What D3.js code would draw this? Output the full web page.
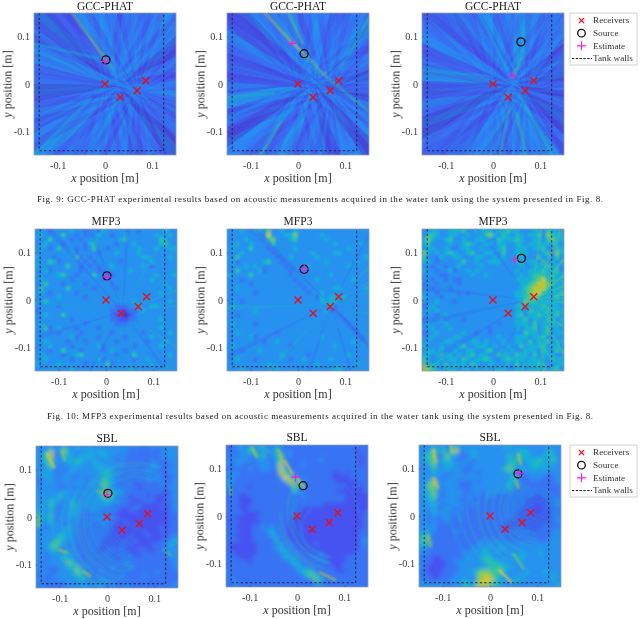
<!DOCTYPE html>
<html>
<head>
<meta charset="utf-8">
<script src="https://cdn.jsdelivr.net/npm/d3@7.9.0/dist/d3.min.js"></script>
<style>
  html, body { margin: 0; padding: 0; background: #fff; }
  svg { display: block; font-family: "Liberation Serif", serif; }
</style>
</head>
<body>
<svg id="chart" width="640" height="619"></svg>
<script>
// Values. Everything is in metres, map levels are 0..1.
const receiversX = [0, 0.032, 0.068, 0.086];
const receiversY = [0, -0.028, -0.014, 0.007];
const tickValues = [-0.1, 0, 0.1];
const legendLabels = ['Receivers', 'Source', 'Estimate', 'Tank walls'];
const wallsX = [-0.139, -0.139, 0.124, 0.124];
const wallsY = [0.15, -0.141, -0.141, 0.15];
const captions = [
  'Fig. 9: GCC-PHAT experimental results based on acoustic measurements acquired in the water tank using the system presented in Fig. 8.',
  'Fig. 10: MFP3 experimental results based on acoustic measurements acquired in the water tank using the system presented in Fig. 8.'
];

const titles = ['GCC-PHAT', 'MFP3', 'SBL'];
const sourcesX = [0.002, 0.013, 0.059, 0.002, 0.013, 0.06, 0.002, 0.013, 0.059];
const sourcesY = [0.051, 0.064, 0.089, 0.051, 0.065, 0.088, 0.05, 0.064, 0.089];
const estimatesX = [0, -0.013, 0.041, 0.002, 0.013, 0.046, 0, -0.003, 0.063];
const estimatesY = [0.048, 0.086, 0.017, 0.049, 0.066, 0.085, 0.047, 0.082, 0.09];

// GCC-PHAT: wide wedges (start angle, end angle, level) round a hub
const gccHub = [[0.03, -0.005], [0.035, 0.0], [0.04, 0.0]];
const gccWedges1 = [[-8,6,.2],[6,18,.12],[18,28,.17],[28,42,.07],[42,55,.2],[55,64,.26],[64,75,.15],[75,88,.22],[88,100,.14],[100,112,.24],[112,122,.28],[122,132,.12],[132,146,.07],[146,156,.2],[156,165,.3],[165,178,.18],[178,190,.06],[190,200,.2],[200,208,.12],[208,216,.24],[216,226,.3],[226,238,.13],[238,248,.2],[248,258,.27],[258,270,.15],[270,280,.23],[280,292,.1],[292,304,.2],[304,318,.06],[318,330,.18],[330,342,.11],[342,352,.23]];
const gccWedges2 = [[-8,4,.15],[4,14,.08],[14,30,.2],[30,42,.13],[42,52,.28],[52,66,.2],[66,78,.13],[78,92,.25],[92,104,.18],[104,118,.27],[118,132,.23],[132,148,.09],[148,160,.18],[160,172,.11],[172,186,.13],[186,196,.3],[196,206,.16],[206,216,.07],[216,230,.25],[230,242,.14],[242,254,.3],[254,264,.13],[264,276,.2],[276,290,.09],[290,304,.22],[304,316,.07],[316,330,.25],[330,342,.16],[342,352,.09]];
const gccWedges3 = [[-8,4,.13],[4,14,.06],[14,26,.18],[26,38,.09],[38,50,.23],[50,62,.15],[62,74,.27],[74,88,.3],[88,102,.18],[102,114,.27],[114,128,.2],[128,142,.11],[142,156,.22],[156,168,.15],[168,178,.3],[178,188,.09],[188,200,.15],[200,212,.06],[212,224,.2],[224,236,.11],[236,248,.23],[248,258,.3],[258,270,.16],[270,280,.27],[280,292,.23],[292,304,.3],[304,316,.13],[316,332,.06],[332,342,.16],[342,352,.07]];

// GCC-PHAT: fine fans from two receivers, one digit per 5 degrees, level = digit / 10
const gccFansA = [
  '213212321323212132312321213231212312132213231212321321231213212312132132',
  '321231213232123121323212312132123212313213212321312321231321232132123121',
  '231321212313212321323121323123213212132321231213231232121321232131231213'
];
const gccFansB = [
  '123212132123231212321323121232132123213121323212132312123213212321321232',
  '232131232123132123213212132312321213231213212321232131213232123132123213',
  '312123213213232121323213123212312132132312123231213213232123121232132312'
];

// streaks: x1, y1, x2, y2, level
const gccStreaks1 = [[-0.07,0.15,-0.03,0.095,.55],[-0.03,0.095,0.003,0.05,.6],[0.003,0.05,0.02,0.028,.5],[-0.15,0.085,-0.005,0.052,.36],[-0.15,-0.15,-0.03,-0.03,.36],[-0.035,-0.15,0.03,-0.03,.32],[0.15,-0.02,0.06,0,.28],[0.09,0.15,0.03,0.03,.26],[0.01,0.15,0.02,0.02,.28],[0.15,0.13,0.06,0.03,.3],[-0.01,0.02,0.09,-0.03,.3],[0.01,0.06,0.07,-0.04,.3],[-0.02,-0.02,0.05,0.03,.3],[0.06,-0.15,0.05,-0.03,.28],[-0.15,-0.09,-0.03,-0.03,.3]];
const gccStreaks2 = [[-0.07,0.15,-0.015,0.09,.62],[-0.015,0.09,0.013,0.064,.72],[0.013,0.064,0.06,0.015,.56],[0.06,0.015,0.15,-0.058,.46],[-0.02,0.15,0.01,0.085,.52],[0.09,0.03,0.15,0.14,.42],[-0.15,-0.028,-0.05,-0.02,.42],[-0.08,-0.15,-0.035,-0.08,.5],[-0.035,-0.08,-0.01,-0.04,.36],[0.03,0.05,0.045,0.02,.45],[-0.15,-0.07,-0.02,-0.02,.3],[0.01,0.02,0.09,-0.03,.28],[0.03,0.15,0.045,0.02,.28],[0.02,0.0,0.06,-0.15,.28],[0.15,0.1,0.05,0,.26]];
const gccStreaks3 = [[0.045,0.02,0.06,0.055,.5],[0.06,0.055,0.065,0.12,.4],[-0.03,0.15,0.03,0.03,.36],[0.055,-0.02,0.125,-0.15,.4],[0.05,-0.06,0.07,-0.15,.48],[0.015,-0.15,0.035,-0.05,.46],[-0.15,0.03,0,0.015,.36],[0.03,0.02,0.075,-0.03,.3],[0.02,-0.03,0.07,0.03,.3],[-0.05,-0.15,0.02,-0.03,.28],[0.15,0.14,0.07,0.03,.28],[-0.15,0.1,0,0.03,.26]];

// level maps, top row first, one digit per cell
const gccMap = ['222222','232332','232332','223322','222222','222222'];
const mfpMap1 = ['33323333433233243333333233333433','34333353323233433233433333343343','33353333232334333334533333335433','33433323333245333323334333334533','34323533323235332333333433343344','33333333423333233343333433333333','43332333352323333333333344333343','33354233333232333332333333433333','43333335332323233433333343233333','33423333332333223333343333333333','33333453323335332233333333343334','34333333233333323333333333433333','33533323333233333233333333333433','35333335333332333323333333333343','34323333323333333333333333334333','33333433333233333333333333333333','33533333333333333333334333333343','33333233333333333322233433443333','23333333333333333221122343333333','33433353333333333211012333333333','33333333233333333221122333334333','34333333333233333322233333333333','33523433323333233333333333334333','33333233332333333233333323333343','43333333423333233333233333433333','33433332333233333323333332333433','33343333233333423333332333334333','33323353332333323433233333333333','34333323345333333323335333333343','33433333233333423333332334333333','43333433333233335233333333433333','33333333433333333333343333333433'];
const mfpMap2 = ['33343344363343343333333333333333','33333333373334463333343333333333','33334333356333453333334333333333','33433433335333333333333343333343','34333533323333343333333333343333','33343333332333333334333344333333','33533333333233433333433333333334','34233333453323333333334333333433','33334343333332333343333333343333','33533334233333233333333333333333','43333533333333233333333433333333','33323333333333323333433333334333','33333233333333332333333333333333','33433333333333333233333344333334','33333323333333333323343333333333','33333333333333333333243444433333','33323333333333333333344443333333','34333333333333333333333423333333','33333343333333333333334223333333','33233333333333333333333332333333','33333333333333333333333333233333','34333323333333333333333333323333','33333333333333333333333333332333','33433333333233333333333333333233','33333423333333333333343333333323','33333333233433333333333333334333','34333333333333233333333343333333','33323334333333333333333333333333','33333333333343333323333333343333','33433323333333233433333433333333','33333333343333333333433333333433','33343333333433333333333344333333'];
const mfpMap3 = ['33443344453344443445443334435443','35543344334334564354344344536544','46433453343344433544454334435644','45333343345433443443344344444443','34433432344334333453344434453354','64343454334533443353344433345364','53324334433344334343344333534353','44323333353343344433344344353434','33233233433334333333334334445443','43323342334343333333343344454453','33332233333433433333334345554544','33233232233333333333344445674544','23323333233333333333334456776544','33233323333333333333334567775444','33323333232333333333344567754445','43332333333333333333344566544454','33343332333333333333334655444444','23433333333333333333345444454443','34343333333333333333344354445444','33323433333333333333345344544453','23334233323333333333344534435434','34333433333333333233344435344544','33433343333333323333343445345343','23343333343323323333333544345344','33433334433333333433344434453433','34333443333443433343344353445344','43334333453344434334335344453443','34434334334433453343433444354354','44345443434534433544354435344433','54344344354344543345444344433544','65443534443543344334353444543344','76543444344343434443344344443453'];
const sblMap1 = ['33343363343433333333323222323333','33473364333343443333322222222333','34572344334443343323222222223333','33563334454334333323222222322233','33463233343334433333222222332223','33342323433333444322222223322233','34433233323333345332222222232223','23342333233233354322222223332223','23333233333333465322221222223223','33333223233233363322222122222233','33333343333333356443222222222123','34333533332333465422212221211223','33354333433333345332221122211223','34353233533333333222212211112123','43343233433233322221122111111123','54352333432222222211111111111122','44352333332223322221111111111122','43343323322322232211211111111122','33233334322222222111112111112122','33333343322222222111111121112122','33333543322222221111121112111223','33335533322222211111212111112234','33356432322222211112121111222343','33345233322222112212111221122233','33233343332222222122221122222233','33233354322222222212222222222233','32333336532322222222322222222223','33222334463232222322232222222223','23322333464222322222222222232222','23223333345322232223222232222222','32232333334333333322222222222222','23222223333333332322322222222223'];
const sblMap2 = ['22342434523432222222222222222222','22233552342532322222222222222122','23233234523462322222222222222212','32333323332363222222232222222212','32332223332473222322222222222212','22222322332374222222222222222222','33322222222276332222222211212222','23222222222238643222222211112222','43222222222223763322222221111122','32222122222222264322222222211212','22222222222222253222222221111112','22211222222222222322222222211111','22211122222222222222222222211111','22211122222222222222221111111111','22211222222222222111111111111111','22221111222222221111111111111112','22111112222222211111111111111112','12211111222222111111111111111112','22111122323222111111111111111112','22211122234222111111111111111122','22111122224322111111111111111122','22211122222422211111111111111123','21111112222342221111211111111123','21111112222343222111111111111122','22111112222234322211121111111222','22211122222224342222222111122222','22222122222222343222222111122222','22222222222222234322222211222222','32222222222222223454222221122222','22222222222222222356522222222222','23222222222222222223642222222222','22322222222222222222332222222222'];
const sblMap3 = ['33343433533333333334433333333333','33463535733343333333334443333533','34562364322343333333535443334443','34563453323323333333445344453453','33463344333233333333553334544433','33353343332233333335643434434333','33343323332332333333443333333233','33333233333333333333353223332223','33573333322232333333443222222223','34663333322233333333532222222222','33563233332233233333322222222222','34463233332323233222222222112222','33452333322322222222222211111223','33343233332232222222222211111223','33342333232222222222222111111122','33243332322222222222221111111122','33232332232222222222221111111123','33232232222222222222111111111123','33332222222222222221112111112222','34332222322222222222222221122233','45322222222222222222222222222233','46322222222222323232222222222333','45322222222223333333333333333333','33222222222233343343333333333333','33222222223333443333333433343333','22211222223333454333344433333333','32211122333333455443333333333333','32111122233333345554433333333333','22111222233345665564333343334333','22211222333336776543333433333343','32212223334336787443344333333433','33333323335447775543333333333334'];

// digit of a level map to level
const digitLevel = d3.scaleLinear().domain([0, 1, 3, 8]).range([0.03, 0.13, 0.28, 0.74]);

// MFP3 radial fans
const mfpHub = [[0.035,-0.025], [0.07,-0.01], [0.08,0.0]];
const mfpWedges1 = [[5,8,.42],[20,23,.44],[38,41,.4],[60,63,.42],[85,88,.16],[110,113,.16],[130,133,.14],[150,152,.38],[172,175,.4],[195,198,.16],[218,221,.4],[240,242,.14],[262,265,.38],[285,288,.42],[305,308,.16],[325,328,.42],[345,348,.4]];
const mfpWedges2 = [[8,10,.46],[18,20,.46],[30,32,.5],[44,46,.48],[60,63,.18],[134,138,.12],[180,183,.42],[205,208,.16],[225,228,.42],[250,253,.18],[285,288,.14],[310,315,.1],[320,322,.42],[345,348,.44]];
const mfpWedges3 = [[-6,-3,.6],[8,11,.66],[22,25,.68],[35,38,.66],[50,53,.62],[65,68,.6],[80,83,.56],[100,103,.48],[125,128,.18],[172,175,.18],[190,193,.16],[210,213,.18],[240,243,.2],[262,265,.5],[280,283,.56],[300,303,.58],[318,321,.6],[335,338,.58]];

// SBL streaks: x1, y1, x2, y2, level
const sblStreaks1 = [[-0.128,0.135,-0.112,0.105,.7],[-0.095,0.14,-0.09,0.12,.6],[-0.02,0.055,0.01,0.045,.6],[-0.145,0.0,-0.145,-0.02,.6],[-0.1,-0.07,-0.085,-0.075,.62],[-0.05,-0.115,-0.035,-0.125,.62],[0.12,-0.07,0.135,-0.08,.5]];
const sblStreaks2 = [[-0.095,0.145,-0.085,0.125,.64],[-0.04,0.14,-0.03,0.115,.62],[-0.025,0.115,-0.01,0.09,.74],[0,0.08,0.015,0.06,.7],[0.05,-0.12,0.08,-0.135,.64],[-0.14,0.06,-0.14,0.045,.55]];
const sblStreaks3 = [[-0.12,0.14,-0.115,0.115,.7],[-0.083,0.15,-0.08,0.135,.7],[-0.12,0.08,-0.11,0.06,.68],[-0.13,-0.04,-0.125,-0.065,.62],[0.06,0.13,0.065,0.11,.64],[0.055,0.075,0.06,0.06,.62],[0.02,-0.115,0.045,-0.14,.76],[0.05,-0.08,0.07,-0.11,.56]];

// SBL rings: centre x, centre y, radius, start, end (degrees clockwise from north), level
const sblArcs1 = [[0.06,-0.01,0.05,200,340,.34],[0.06,-0.01,0.058,195,345,.32],[0.06,-0.01,0.065,190,350,.36],[0.06,-0.01,0.072,185,355,.34],[0.06,-0.01,0.08,180,360,.36],[0.06,-0.01,0.088,180,370,.36],[0.06,-0.01,0.095,180,380,.42],[0.06,-0.01,0.103,185,380,.4],[0.06,-0.01,0.11,190,380,.44],[0.06,-0.01,0.118,190,385,.42],[0.06,-0.01,0.125,195,385,.46],[0.06,-0.01,0.14,200,300,.46],[0.06,-0.01,0.155,205,285,.42],[0.06,-0.01,0.175,215,270,.42]];
const sblArcs2 = [[0.07,-0.03,0.06,195,320,.3],[0.08,-0.01,0.075,190,310,.32],[0.08,-0.01,0.09,190,300,.38],[0.09,0.01,0.1,190,295,.4],[0.09,0.01,0.11,190,290,.46],[0.09,0.01,0.125,195,270,.48],[0.1,0.02,0.145,205,255,.44],[0.12,0.04,0.185,200,235,.4],[0.04,0.0,0.09,40,90,.3]];
const sblArcs3 = [[0.1,0.015,0.015,0,360,.34],[0.1,0.015,0.022,0,360,.36],[0.1,0.015,0.03,0,360,.38],[0.1,0.015,0.036,0,360,.36],[0.1,0.015,0.043,10,360,.38],[0.1,0.015,0.05,180,340,.4],[0.1,0.015,0.056,180,335,.38],[0.1,0.015,0.063,180,330,.42],[0.1,0.015,0.07,180,320,.42],[0.1,0.015,0.08,190,310,.44],[0.1,0.015,0.095,200,300,.46],[0.1,0.015,0.11,205,290,.48],[0.1,0.015,0.125,210,280,.48],[0.11,0.03,0.16,215,270,.44],[0.12,0.04,0.19,225,260,.42],[0.12,0.04,0.21,230,265,.4]];

const panels = [
  { map: gccMap, hub: gccHub[0], wedges: gccWedges1, fanA: gccFansA[0], fanB: gccFansB[0], streaks: gccStreaks1, arcs: [] },
  { map: gccMap, hub: gccHub[1], wedges: gccWedges2, fanA: gccFansA[1], fanB: gccFansB[1], streaks: gccStreaks2, arcs: [] },
  { map: gccMap, hub: gccHub[2], wedges: gccWedges3, fanA: gccFansA[2], fanB: gccFansB[2], streaks: gccStreaks3, arcs: [] },
  { map: mfpMap1, hub: mfpHub[0], wedges: mfpWedges1, streaks: [], arcs: [] },
  { map: mfpMap2, hub: mfpHub[1], wedges: mfpWedges2, streaks: [], arcs: [] },
  { map: mfpMap3, hub: mfpHub[2], wedges: mfpWedges3, streaks: [], arcs: [] },
  { map: sblMap1, wedges: [], streaks: sblStreaks1, arcs: sblArcs1 },
  { map: sblMap2, wedges: [], streaks: sblStreaks2, arcs: sblArcs2 },
  { map: sblMap3, wedges: [], streaks: sblStreaks3, arcs: sblArcs3 }
];

// layout
const panelSize = 142;
const panelLefts = [34, 227, 422, 35, 227, 422, 36, 226, 419];
const panelTops = [13, 13, 13, 229, 229, 229, 446, 445, 445];
const wedgeRadius = 0.5;
const mapBlur = [10, 1.1, 1.9];

// parula colour map
const parulaStops = ['#3e26a8', '#4850f0', '#2d87f7', '#11b1d6', '#37c897', '#abc739', '#ecc83a', '#f5e626', '#f9fb15'];
const colour = d3.scaleLinear()
  .domain(parulaStops.map((d, i) => i / (parulaStops.length - 1)))
  .range(parulaStops)
  .clamp(true);

const svg = d3.select('#chart');
const defs = svg.append('defs');

function addBlur(id, dev) {
  defs.append('filter').attr('id', id)
    .attr('x', '-20%').attr('y', '-20%').attr('width', '140%').attr('height', '140%')
    .append('feGaussianBlur').attr('stdDeviation', dev);
}
addBlur('blurWedge', 0.5);
addBlur('blurLine', 0.8);
addBlur('blurText', 0.3);

const toRad = (a) => a * Math.PI / 180;

panels.forEach((p, i) => {
  const x = d3.scaleLinear().domain([-0.15, 0.15]).range([0, panelSize]);
  const y = d3.scaleLinear().domain([-0.15, 0.15]).range([panelSize, 0]);
  const g = svg.append('g').attr('transform', `translate(${panelLefts[i]},${panelTops[i]})`);
  const method = Math.floor(i / 3);

  defs.append('clipPath').attr('id', `clip${i}`)
    .append('rect').attr('width', panelSize).attr('height', panelSize);
  defs.append('filter').attr('id', `blurMap${i}`)
    .attr('x', '-10%').attr('y', '-10%').attr('width', '120%').attr('height', '120%')
    .append('feGaussianBlur').attr('stdDeviation', mapBlur[method]);

  const image = g.append('g').attr('clip-path', `url(#clip${i})`);

  // level map cells
  const n = p.map.length;
  const band = d3.scaleBand().domain(d3.range(n)).range([0, panelSize]);
  const cells = p.map.flatMap((row, r) => Array.from(row, (c, k) => ({ r, c: k, v: digitLevel(+c) })));
  image.append('rect').attr('width', panelSize).attr('height', panelSize)
    .attr('fill', colour(d3.mean(cells, d => d.v)));
  image.append('g').attr('filter', `url(#blurMap${i})`)
    .selectAll('rect').data(cells).join('rect')
    .attr('x', d => band(d.c) - 0.5).attr('y', d => band(d.r) - 0.5)
    .attr('width', band.bandwidth() + 1).attr('height', band.bandwidth() + 1)
    .attr('fill', d => colour(d.v));

  // wedges fanning out of a point
  const line = d3.line().x(d => x(d[0])).y(d => y(d[1]));
  const tip = (h, a) => [h[0] + wedgeRadius * Math.cos(toRad(a)), h[1] + wedgeRadius * Math.sin(toRad(a))];
  const wedgePath = (h, a0, a1) => line([h, tip(h, a0), tip(h, a1)]) + 'Z';
  if (p.hub) {
    image.append('g').attr('filter', 'url(#blurWedge)')
      .selectAll('path').data(p.wedges).join('path')
      .attr('d', d => wedgePath(p.hub, d[0], d[1]))
      .attr('fill', d => colour(d[2]))
      .attr('opacity', method === 0 ? 0.9 : 0.22);
  }
  if (p.fanA) {
    [[p.fanA, 0], [p.fanB, 2]].forEach(([fan, rx]) => {
      const hub = [receiversX[rx], receiversY[rx]];
      image.append('g').attr('filter', 'url(#blurWedge)')
        .selectAll('path').data(Array.from(fan)).join('path')
        .attr('d', (d, k) => wedgePath(hub, k * 5, k * 5 + 5))
        .attr('fill', d => colour(+d / 10))
        .attr('opacity', 0.3);
    });
  }

  // rings
  const arc = d3.arc();
  image.append('g').attr('filter', 'url(#blurLine)')
    .selectAll('path').data(p.arcs).join('path')
    .attr('transform', d => `translate(${x(d[0])},${y(d[1])})`)
    .attr('d', d => {
      const r = x(d[2]) - x(0);
      return arc({ innerRadius: r - 0.6, outerRadius: r + 0.6, startAngle: toRad(d[3]), endAngle: toRad(d[4]) });
    })
    .attr('fill', d => colour(d[5]))
    .attr('opacity', 0.5);

  // streaks
  image.append('g').attr('filter', 'url(#blurLine)')
    .selectAll('line').data(p.streaks).join('line')
    .attr('x1', d => x(d[0])).attr('y1', d => y(d[1]))
    .attr('x2', d => x(d[2])).attr('y2', d => y(d[3]))
    .attr('stroke', d => colour(d[4]))
    .attr('stroke-width', method === 2 ? 2.6 : 1.8)
    .attr('stroke-linecap', 'round')
    .attr('opacity', method === 2 ? 0.7 : 0.8);

  // tank walls
  g.append('path')
    .attr('d', line(wallsX.map((v, k) => [v, wallsY[k]])))
    .attr('fill', 'none').attr('stroke', '#1a1a2e').attr('stroke-width', 0.9)
    .attr('stroke-dasharray', '2.4 2.2');

  // frame and axes
  g.append('rect').attr('width', panelSize).attr('height', panelSize)
    .attr('fill', 'none').attr('stroke', '#9a9fa6').attr('stroke-width', 0.8);
  const fmt = d => String(d);
  const xAxis = g.append('g').attr('transform', `translate(0,${panelSize})`)
    .call(d3.axisBottom(x).tickValues(tickValues).tickFormat(fmt).tickSizeInner(-1.5).tickSizeOuter(0).tickPadding(7));
  const yAxis = g.append('g')
    .call(d3.axisLeft(y).tickValues(tickValues).tickFormat(fmt).tickSizeInner(-1.5).tickSizeOuter(0).tickPadding(4));
  [xAxis, yAxis].forEach(a => {
    a.select('.domain').remove();
    a.selectAll('.tick line').attr('stroke', '#555').attr('stroke-width', 0.6);
    a.selectAll('text').attr('fill', '#3a3a3a').attr('filter', 'url(#blurText)')
      .style('font-size', '10.2px').style('font-family', '"Liberation Serif", serif');
  });

  // labels, the top row titles sit tight against the page edge
  g.append('text').attr('x', panelSize / 2).attr('y', i < 3 ? -2.6 : -4).attr('text-anchor', 'middle')
    .attr('font-size', 11.5).attr('fill', '#222').attr('filter', 'url(#blurText)').text(titles[method]);
  const xLabel = g.append('text').attr('x', panelSize / 2).attr('y', panelSize + 27)
    .attr('text-anchor', 'middle').attr('font-size', 12).attr('fill', '#333').attr('filter', 'url(#blurText)');
  xLabel.append('tspan').attr('font-style', 'italic').text('x');
  xLabel.append('tspan').text(' position [m]');
  const yLabel = g.append('text').attr('transform', `translate(-22.5,${panelSize / 2}) rotate(-90)`)
    .attr('text-anchor', 'middle').attr('font-size', 12).attr('fill', '#333').attr('filter', 'url(#blurText)');
  yLabel.append('tspan').attr('font-style', 'italic').text('y');
  yLabel.append('tspan').text(' position [m]');

  // markers
  g.selectAll('.rx').data(receiversX).join('path').attr('class', 'rx')
    .attr('transform', (d, k) => `translate(${x(d)},${y(receiversY[k])})`)
    .attr('d', d3.symbol(d3.symbolTimes, 34)())
    .attr('fill', 'none').attr('stroke', '#e3101f').attr('stroke-width', 1.4);
  g.append('circle').attr('cx', x(sourcesX[i])).attr('cy', y(sourcesY[i])).attr('r', 4)
    .attr('fill', 'none').attr('stroke', '#0a0a0a').attr('stroke-width', 1.3);
  g.append('path').attr('transform', `translate(${x(estimatesX[i])},${y(estimatesY[i])})`)
    .attr('d', d3.symbol(d3.symbolPlus, 28)())
    .attr('fill', 'none').attr('stroke', '#ef1fe0').attr('stroke-width', 1.2);
});

// legends, one beside the top row and one beside the bottom row
[[570, 13], [570, 445]].forEach(([lx, ly]) => {
  const lg = svg.append('g').attr('transform', `translate(${lx},${ly})`);
  lg.append('rect').attr('width', 67).attr('height', 52)
    .attr('fill', '#fff').attr('stroke', '#c8c8c8').attr('stroke-width', 0.8);
  const rowY = d3.scalePoint().domain(legendLabels).range([7.5, 45.5]);
  legendLabels.forEach(label => {
    lg.append('text').attr('x', 23).attr('y', rowY(label) + 2.8)
      .attr('font-size', 9.2).attr('fill', '#333').attr('filter', 'url(#blurText)').text(label);
  });
  const mx = 11.5;
  lg.append('path').attr('transform', `translate(${mx},${rowY('Receivers')})`)
    .attr('d', d3.symbol(d3.symbolTimes, 20)())
    .attr('fill', 'none').attr('stroke', '#e3101f').attr('stroke-width', 1.3);
  lg.append('circle').attr('cx', mx).attr('cy', rowY('Source')).attr('r', 3.8)
    .attr('fill', 'none').attr('stroke', '#0a0a0a').attr('stroke-width', 1.3);
  lg.append('path').attr('transform', `translate(${mx},${rowY('Estimate')})`)
    .attr('d', d3.symbol(d3.symbolPlus, 28)())
    .attr('fill', 'none').attr('stroke', '#ef1fe0').attr('stroke-width', 1.2);
  lg.append('line').attr('x1', 2).attr('x2', 22)
    .attr('y1', rowY('Tank walls')).attr('y2', rowY('Tank walls'))
    .attr('stroke', '#1a1a1a').attr('stroke-width', 1).attr('stroke-dasharray', '2.2 1.6');
});

// figure captions
svg.append('text').attr('x', 37).attr('y', 202).attr('font-size', 9).attr('fill', '#222').attr('filter', 'url(#blurText)')
  .attr('textLength', 566).attr('lengthAdjust', 'spacing').text(captions[0]);
svg.append('text').attr('x', 47).attr('y', 419).attr('font-size', 9).attr('fill', '#222').attr('filter', 'url(#blurText)')
  .attr('textLength', 546).attr('lengthAdjust', 'spacing').text(captions[1]);
</script>
</body>
</html>
